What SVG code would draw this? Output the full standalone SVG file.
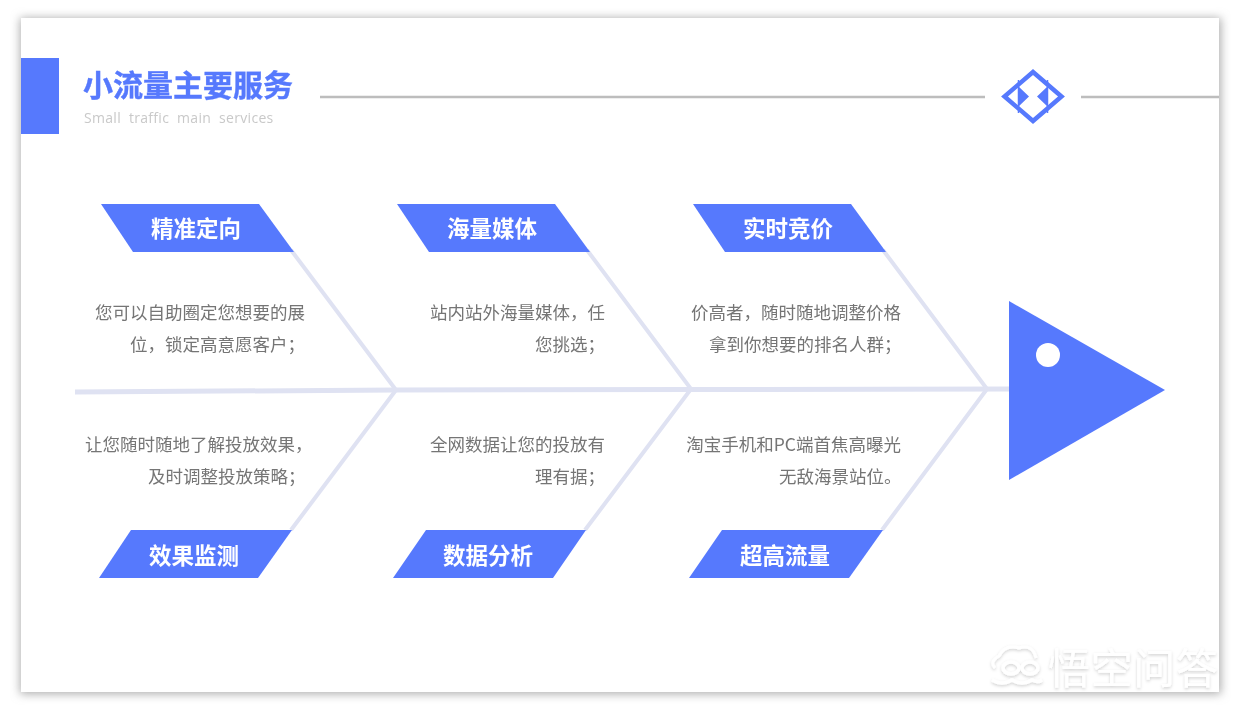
<svg xmlns="http://www.w3.org/2000/svg" width="1240" height="711" viewBox="0 0 1240 711">
<style>
text{font-family:"Noto Sans CJK SC","Liberation Sans",sans-serif}
.tag{fill:#5679fd}
.tagt{fill:#fff;font-size:22.500px;font-weight:700;text-anchor:middle}
.desc{fill:#757575;font-size:17.500px;text-anchor:end}
.bone{fill:none;stroke:#dfe2f2;stroke-width:4}
.rule{stroke:#bdbdbd;stroke-width:2.500;fill:none}
.soft{filter:url(#soft)}
</style>
<defs>
<filter id="sh" x="-5%" y="-5%" width="110%" height="110%"><feGaussianBlur stdDeviation="5"/></filter>
<filter id="soft" x="-5%" y="-20%" width="110%" height="140%"><feGaussianBlur stdDeviation="0.4"/></filter>
<filter id="wm" x="-10%" y="-20%" width="120%" height="140%"><feDropShadow dx="0" dy="1.500" stdDeviation="1.500" flood-color="#000" flood-opacity="0.18"/></filter>
</defs>
<rect width="1240" height="711" fill="#fff"/>
<rect x="20" y="18" width="1201" height="676" fill="#adadad" filter="url(#sh)"/>
<rect id="card" x="21" y="18" width="1198" height="674" fill="#fff"/>
<g id="header">
<rect x="21" y="58" width="38" height="76" fill="#5679fd"/>
<text class="soft" x="83" y="96" font-size="30" font-weight="700" fill="#5679fd" stroke="#5679fd" stroke-width="0.400">小流量主要服务</text>
<text class="soft" x="84" y="123" font-size="14" fill="#c9c9c9" letter-spacing="0.300" word-spacing="4" style="font-family:'Open Sans','Liberation Sans',sans-serif">Small traffic main services</text>
<path class="rule" d="M320 97H985M1081 97H1219"/>
</g>
<g id="logo">
<path d="M1033 72L1061.500 96.500L1033 121L1004.500 96.500Z" fill="none" stroke="#5679fd" stroke-width="4.500"/>
<path d="M1018 86L1029 96.500L1018 107Z M1048 86L1037 96.500L1048 107Z" fill="#5679fd"/>
<path d="M1018.500 80V113M1047.500 80V113" stroke="#5679fd" stroke-width="1.500" fill="none"/>
</g>
<g id="connectors">
<path d="M75 392L396 390L691 389.500L1009 389" fill="none" stroke="#dfe2f2" stroke-width="5"/>
<path class="bone" d="M291 250L396 390L291 530M587 250L691 389L585 530M883 250L987 389L882 530"/>
</g>
<g id="fish-head">
<path d="M1009 301L1165 390L1009 480Z" fill="#5679fd"/>
<circle cx="1048" cy="355" r="12" fill="#fff"/>
</g>
<g id="n1"><path class="tag" d="M101 204H259L294 252H133Z"/><text class="tagt soft" x="196" y="237">精准定向</text></g>
<g id="n2"><path class="tag" d="M397 204H555L590 252H429Z"/><text class="tagt soft" x="492" y="237">海量媒体</text></g>
<g id="n3"><path class="tag" d="M693 204H851L886 252H725Z"/><text class="tagt soft" x="788" y="237">实时竞价</text></g>
<g id="n4"><path class="tag" d="M131 530H292L258 578H99Z"/><text class="tagt soft" x="194" y="564">效果监测</text></g>
<g id="n5"><path class="tag" d="M426 530H586L553 578H393Z"/><text class="tagt soft" x="488" y="564">数据分析</text></g>
<g id="n6"><path class="tag" d="M722 530H883L849 578H689Z"/><text class="tagt soft" x="785" y="564">超高流量</text></g>
<g id="d1" class="soft"><text class="desc" x="305" y="319">您可以自助圈定您想要的展</text><text class="desc" x="305" y="351">位，锁定高意愿客户；</text></g>
<g id="d2" class="soft"><text class="desc" x="605" y="319">站内站外海量媒体，任</text><text class="desc" x="605" y="351">您挑选；</text></g>
<g id="d3" class="soft"><text class="desc" x="901" y="319">价高者，随时随地调整价格</text><text class="desc" x="901.500" y="351">拿到你想要的排名人群；</text></g>
<g id="d4" class="soft"><text class="desc" x="312.500" y="451">让您随时随地了解投放效果，</text><text class="desc" x="305.500" y="483">及时调整投放策略；</text></g>
<g id="d5" class="soft"><text class="desc" x="605" y="451">全网数据让您的投放有</text><text class="desc" x="605" y="483">理有据；</text></g>
<g id="d6" class="soft"><text class="desc" x="901" y="451">淘宝手机和PC端首焦高曝光</text><text class="desc" x="901.500" y="483">无敌海景站位。</text></g>
<g id="watermark" filter="url(#wm)">
<g fill="none" stroke="#fff" stroke-width="3.500">
<path d="M1003 668a8 6 0 1 1 16 0a8 6 0 1 1-16 0M1022 668a8 6 0 1 1 16 0a8 6 0 1 1-16 0"/>
<path d="M992 680q10 6 20 0q10 6 20 0q6 3 10 0"/>
</g>
<path d="M995 668q-6-6 4-12q6-12 20-8q14-4 17 10" fill="none" stroke="#fff" stroke-width="3"/>
<text x="1048" y="684" font-size="42" fill="#fff" textLength="170">悟空问答</text>
</g>
</svg>
